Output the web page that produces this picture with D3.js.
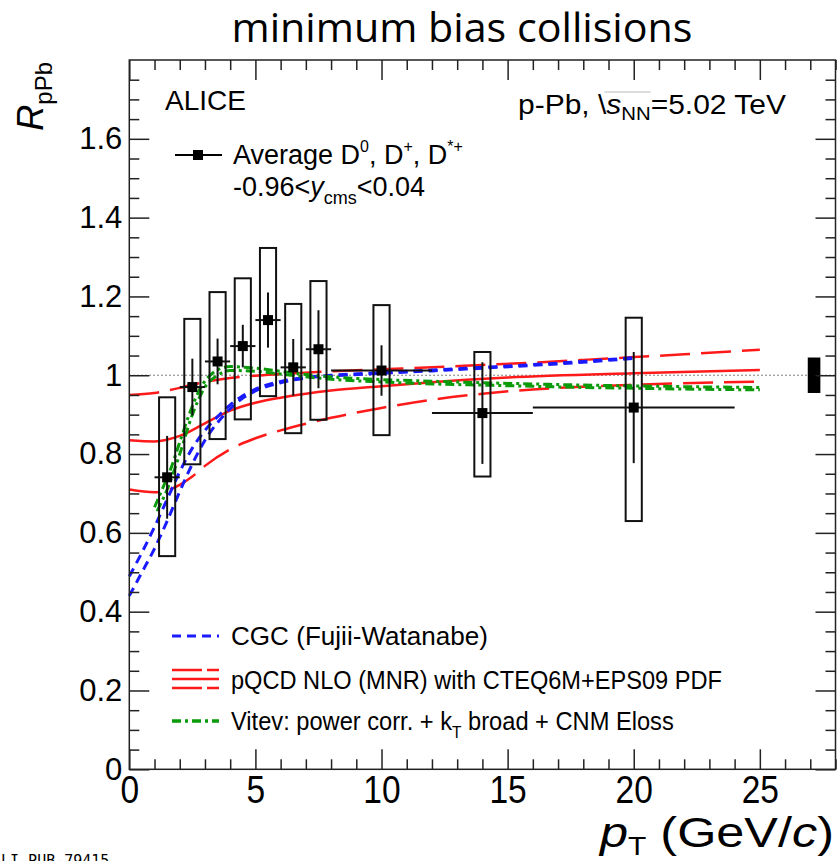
<!DOCTYPE html>
<html>
<head>
<meta charset="utf-8">
<script src="https://cdn.jsdelivr.net/npm/d3@7"></script>
<style>
  html, body { margin: 0; padding: 0; background: #fff; }
  svg { display: block; }
  text { font-family: "Liberation Sans", Arial, Helvetica, sans-serif; fill: #000; }
</style>
</head>
<body>
<svg id="chart" width="839" height="861"></svg>
<script>
// ---- Measured D-meson R_pPb (average of D0, D+, D*+) ----
const ptCenter = [1.5, 2.5, 3.5, 4.5, 5.5, 6.5, 7.5, 10, 14, 20];
const ptLow    = [1, 2, 3, 4, 5, 6, 7, 8, 12, 16];
const ptHigh   = [2, 3, 4, 5, 6, 7, 8, 12, 16, 24];
const rpPb     = [0.741, 0.970, 1.035, 1.074, 1.140, 1.020, 1.066, 1.012, 0.904, 0.918];
const statErr  = [0.105, 0.072, 0.058, 0.054, 0.070, 0.072, 0.099, 0.064, 0.129, 0.141];
const sysUp    = [0.203, 0.173, 0.176, 0.172, 0.183, 0.161, 0.173, 0.166, 0.155, 0.228];
const sysDown  = [0.200, 0.196, 0.197, 0.186, 0.193, 0.167, 0.179, 0.164, 0.161, 0.288];
const normUnc  = 0.045;

// ---- Model curves: [pT, R_pPb] ----
const cgcUpper = [[0,0.49],[0.5,0.55],[1,0.615],[1.5,0.685],[2,0.755],[2.5,0.815],[3,0.86],[3.5,0.895],[4,0.925],[4.5,0.948],[5,0.965],[6,0.984],[7,0.995],[8,1.0],[10,1.007],[12,1.013],[14,1.02],[16,1.027],[18,1.035],[20,1.045]];
const cgcLower = [[0,0.44],[0.5,0.5],[1,0.56],[1.5,0.63],[2,0.705],[2.5,0.775],[3,0.835],[3.5,0.88],[4,0.915],[4.5,0.942],[5,0.96],[6,0.981],[7,0.993],[8,0.998],[10,1.005],[12,1.011],[14,1.018],[16,1.025],[18,1.033],[20,1.043]];
const mnrUpper = [[0,0.95],[1,0.955],[2,0.968],[3,0.983],[4,0.993],[5,0.999],[6,1.003],[8,1.01],[10,1.015],[12,1.02],[14,1.026],[16,1.032],[18,1.039],[20,1.046],[22,1.053],[25,1.065]];
const mnrCentral = [[0,0.835],[1,0.832],[2,0.846],[3,0.878],[4,0.91],[5,0.93],[6,0.943],[7,0.953],[8,0.961],[10,0.972],[12,0.982],[15,0.994],[20,1.005],[25,1.013]];
const mnrLower = [[0,0.71],[1,0.703],[1.5,0.708],[2,0.722],[2.5,0.743],[3,0.77],[4,0.812],[5,0.84],[6,0.86],[7,0.877],[8,0.892],[9,0.905],[10,0.917],[12,0.938],[14,0.953],[16,0.964],[18,0.971],[20,0.976],[25,0.984]];
const vitevUpper = [[1.0,0.665],[1.3,0.71],[1.6,0.755],[2,0.83],[2.4,0.905],[2.8,0.965],[3.3,1.005],[4,1.022],[5,1.018],[6,1.01],[7,1.002],[8,0.996],[10,0.989],[12,0.985],[14,0.981],[16,0.978],[18,0.975],[20,0.973],[22,0.971],[25,0.969]];
const vitevLower = [[1.1,0.655],[1.5,0.71],[2,0.8],[2.5,0.9],[3,0.97],[3.5,1.0],[4,1.012],[5,1.01],[6,1.003],[7,0.996],[8,0.99],[10,0.983],[12,0.978],[14,0.975],[16,0.972],[18,0.969],[20,0.967],[22,0.965],[25,0.963]];

// ---- Axis ticks ----
const xMajor = [0, 5, 10, 15, 20, 25];
const xMinor = d3.range(0, 29, 1).filter(v => v % 5 !== 0);
const yMajor = [0, 0.2, 0.4, 0.6, 0.8, 1, 1.2, 1.4, 1.6];
const yMinor = d3.range(0, 36).map(i => +(i * 0.05).toFixed(2)).filter(v => Math.round(v * 100) % 20 !== 0);

const svg = d3.select("#chart");
const x = d3.scaleLinear().domain([0, 28]).range([129.3, 835.5]);
const y = d3.scaleLinear().domain([0, 1.8]).range([769.3, 60]);
const axisColor = "#222";

// Title
svg.append("text")
  .attr("x", 462).attr("y", 42)
  .attr("text-anchor", "middle")
  .style("font-family", "'Open Sans', 'Noto Sans', sans-serif")
  .attr("font-size", 40)
  .attr("textLength", 461).attr("lengthAdjust", "spacingAndGlyphs")
  .text("minimum bias collisions");

// Reference line at unity
svg.append("line")
  .attr("x1", x(0)).attr("x2", x(28))
  .attr("y1", y(1)).attr("y2", y(1))
  .attr("stroke", "#555").attr("stroke-width", 1)
  .attr("stroke-dasharray", "1.5,2.5");

// Model curves
const line = d3.line().x(d => x(d[0])).y(d => y(d[1])).curve(d3.curveMonotoneX);
const curves = svg.append("g").attr("fill", "none");
function drawCurve(data, color, width, dash) {
  curves.append("path").datum(data).attr("d", line)
    .attr("stroke", color).attr("stroke-width", width)
    .attr("stroke-dasharray", dash);
}
const red = "#ff1a1a", blue = "#1a1aff", green = "#0a9a0a";
drawCurve(mnrUpper, red, 2.5, "30,11");
drawCurve(mnrCentral, red, 2.5, null);
drawCurve(mnrLower, red, 2.5, "30,11");
drawCurve(cgcUpper, blue, 3, "9,6");
drawCurve(cgcLower, blue, 3, "9,6");
drawCurve(vitevUpper, green, 3, "9,4,3,4");
drawCurve(vitevLower, green, 3, "9,4,3,4");

// Data points: systematic boxes, statistical bars, bin widths, markers
const pts = ptCenter.map((pt, i) => ({ pt, lo: ptLow[i], hi: ptHigh[i], r: rpPb[i], st: statErr[i], su: sysUp[i], sd: sysDown[i] }));
const boxHalf = 0.32;
const dg = svg.append("g");
dg.selectAll("rect.sys").data(pts).join("rect")
  .attr("class", "sys")
  .attr("x", d => x(d.pt - boxHalf)).attr("width", d => x(d.pt + boxHalf) - x(d.pt - boxHalf))
  .attr("y", d => y(d.r + d.su)).attr("height", d => y(d.r - d.sd) - y(d.r + d.su))
  .attr("fill", "none").attr("stroke", "#111").attr("stroke-width", 2);
dg.selectAll("line.stat").data(pts).join("line")
  .attr("class", "stat")
  .attr("x1", d => x(d.pt)).attr("x2", d => x(d.pt))
  .attr("y1", d => y(d.r + d.st)).attr("y2", d => y(d.r - d.st))
  .attr("stroke", "#111").attr("stroke-width", 2);
dg.selectAll("line.bin").data(pts).join("line")
  .attr("class", "bin")
  .attr("x1", d => x(d.lo)).attr("x2", d => x(d.hi))
  .attr("y1", d => y(d.r)).attr("y2", d => y(d.r))
  .attr("stroke", "#111").attr("stroke-width", 2);
const ms = 10;
dg.selectAll("rect.mk").data(pts).join("rect")
  .attr("class", "mk")
  .attr("x", d => x(d.pt) - ms / 2).attr("y", d => y(d.r) - ms / 2)
  .attr("width", ms).attr("height", ms).attr("fill", "#000");

// Normalisation uncertainty
svg.append("rect")
  .attr("x", x(26.9)).attr("width", x(27.4) - x(26.9))
  .attr("y", y(1 + normUnc)).attr("height", y(1 - normUnc) - y(1 + normUnc))
  .attr("fill", "#000");

// Axes (ticks pointing inward, as on a framed plot)
function styleAxis(g) {
  g.select(".domain").remove();
  g.selectAll(".tick line").attr("stroke", axisColor).attr("stroke-width", 1.5);
}
const fmt = d3.format("~g");
svg.append("g").attr("transform", `translate(0,${y(0)})`)
  .call(d3.axisBottom(x).tickValues(xMajor).tickSize(-20).tickPadding(6).tickFormat(fmt))
  .call(styleAxis)
  .call(g => g.selectAll("text").attr("font-size", 39)
    .attr("transform", "scale(0.86,1)")
    .style("font-family", "'Liberation Sans', Arial, sans-serif").attr("fill", "#000"));
svg.append("g").attr("transform", `translate(0,${y(0)})`)
  .call(d3.axisBottom(x).tickValues(xMinor).tickSize(-10).tickFormat(""))
  .call(styleAxis);
svg.append("g").attr("transform", `translate(0,${y(1.8)})`)
  .call(d3.axisTop(x).tickValues(xMajor).tickSize(-20).tickFormat(""))
  .call(styleAxis);
svg.append("g").attr("transform", `translate(0,${y(1.8)})`)
  .call(d3.axisTop(x).tickValues(xMinor).tickSize(-10).tickFormat(""))
  .call(styleAxis);
svg.append("g").attr("transform", `translate(${x(0)},0)`)
  .call(d3.axisLeft(y).tickValues(yMajor).tickSize(-20).tickPadding(7).tickFormat(fmt))
  .call(styleAxis)
  .call(g => g.selectAll("text").attr("font-size", 31).style("font-family", "'Liberation Sans', Arial, sans-serif").attr("fill", "#000"));
svg.append("g").attr("transform", `translate(${x(0)},0)`)
  .call(d3.axisLeft(y).tickValues(yMinor).tickSize(-10).tickFormat(""))
  .call(styleAxis);
svg.append("g").attr("transform", `translate(${x(28)},0)`)
  .call(d3.axisRight(y).tickValues(yMajor).tickSize(-20).tickFormat(""))
  .call(styleAxis);
svg.append("g").attr("transform", `translate(${x(28)},0)`)
  .call(d3.axisRight(y).tickValues(yMinor).tickSize(-10).tickFormat(""))
  .call(styleAxis);

// Frame
svg.append("rect")
  .attr("x", x(0)).attr("y", y(1.8))
  .attr("width", x(28) - x(0)).attr("height", y(0) - y(1.8))
  .attr("fill", "none").attr("stroke", axisColor).attr("stroke-width", 1.5);

// Axis titles
const yt = svg.append("text")
  .attr("transform", "translate(43,62) rotate(-90)")
  .attr("text-anchor", "end");
yt.append("tspan").attr("font-size", 36).attr("font-style", "italic").text("R");
yt.append("tspan").attr("font-size", 24).attr("dy", 9).text("pPb");

const xt = svg.append("text")
  .attr("x", 834).attr("y", 847)
  .attr("text-anchor", "end").attr("font-size", 42)
  .attr("textLength", 234).attr("lengthAdjust", "spacingAndGlyphs");
xt.append("tspan").attr("font-style", "italic").text("p");
xt.append("tspan").attr("font-size", 25).attr("dy", 8).text("T");
xt.append("tspan").attr("dy", -8).text(" (GeV/");
xt.append("tspan").attr("font-style", "italic").text("c");
xt.append("tspan").text(")");

// Labels inside the frame
svg.append("text").attr("x", 165).attr("y", 110).attr("font-size", 28).text("ALICE");

const info = svg.append("text").attr("y", 114).attr("font-size", 28)
  .attr("textLength", 268).attr("lengthAdjust", "spacingAndGlyphs");
info.append("tspan").text("p-Pb, ");
info.append("tspan").text("\\");
info.append("tspan").attr("font-style", "italic").text("s");
info.append("tspan").attr("font-size", 19).attr("dy", 6).text("NN");
info.append("tspan").attr("dy", -6).text("=5.02 TeV");
info.attr("x", 786 - 268);
{
  const n = info.node();
  const x1 = n.getEndPositionOfChar(6).x - 2;
  const x2 = n.getEndPositionOfChar(9).x;
  svg.append("line").attr("x1", x1).attr("x2", x2).attr("y1", 92).attr("y2", 92)
    .attr("stroke", "#bbb").attr("stroke-width", 1);
}

// Data legend
svg.append("line").attr("x1", 175).attr("x2", 222).attr("y1", 155).attr("y2", 155)
  .attr("stroke", "#000").attr("stroke-width", 2);
svg.append("rect").attr("x", 198 - ms / 2).attr("y", 155 - ms / 2).attr("width", ms).attr("height", ms).attr("fill", "#000");
const l1 = svg.append("text").attr("x", 233).attr("y", 164).attr("font-size", 27);
l1.append("tspan").text("Average D");
l1.append("tspan").attr("font-size", 16).attr("dy", -12).text("0");
l1.append("tspan").attr("dy", 12).text(", D");
l1.append("tspan").attr("font-size", 16).attr("dy", -12).text("+");
l1.append("tspan").attr("dy", 12).text(", D");
l1.append("tspan").attr("font-size", 16).attr("dy", -12).text("*+");
const l2 = svg.append("text").attr("x", 233).attr("y", 196).attr("font-size", 27);
l2.append("tspan").text("-0.96<");
l2.append("tspan").attr("font-style", "italic").text("y");
l2.append("tspan").attr("font-size", 18).attr("dy", 8).text("cms");
l2.append("tspan").attr("dy", -8).text("<0.04");

// Model legend
const lx1 = 172, lx2 = 219, tx = 231;
svg.append("line").attr("x1", lx1).attr("x2", lx2).attr("y1", 636).attr("y2", 636)
  .attr("stroke", blue).attr("stroke-width", 3).attr("stroke-dasharray", "9,6");
svg.append("text").attr("x", tx).attr("y", 645).attr("font-size", 26)
  .attr("textLength", 257).attr("lengthAdjust", "spacingAndGlyphs")
  .text("CGC (Fujii-Watanabe)");

svg.append("line").attr("x1", lx1).attr("x2", lx2).attr("y1", 670).attr("y2", 670)
  .attr("stroke", red).attr("stroke-width", 2.5).attr("stroke-dasharray", "30,5");
svg.append("line").attr("x1", lx1).attr("x2", lx2).attr("y1", 679).attr("y2", 679)
  .attr("stroke", red).attr("stroke-width", 2.5);
svg.append("line").attr("x1", lx1).attr("x2", lx2).attr("y1", 688).attr("y2", 688)
  .attr("stroke", red).attr("stroke-width", 2.5).attr("stroke-dasharray", "30,5");
svg.append("text").attr("x", tx).attr("y", 689).attr("font-size", 26)
  .attr("textLength", 491).attr("lengthAdjust", "spacingAndGlyphs")
  .text("pQCD NLO (MNR) with CTEQ6M+EPS09 PDF");

svg.append("line").attr("x1", lx1).attr("x2", lx2).attr("y1", 721).attr("y2", 721)
  .attr("stroke", green).attr("stroke-width", 3.5).attr("stroke-dasharray", "9,4,3,4");
const vt = svg.append("text").attr("transform", `translate(${tx},730) scale(0.91,1)`).attr("font-size", 26);
vt.append("tspan").text("Vitev: power corr. + k");
vt.append("tspan").attr("font-size", 17).attr("dy", 8).text("T");
vt.append("tspan").attr("dy", -8).text(" broad + CNM Eloss");

// Figure identifier at the page corner
svg.append("text").attr("x", -8).attr("y", 866).attr("font-size", 15)
  .style("font-family", "'DejaVu Sans Mono', monospace").attr("fill", "#b5b5b5")
  .text("ALI-PUB-79415");
</script>
</body>
</html>
